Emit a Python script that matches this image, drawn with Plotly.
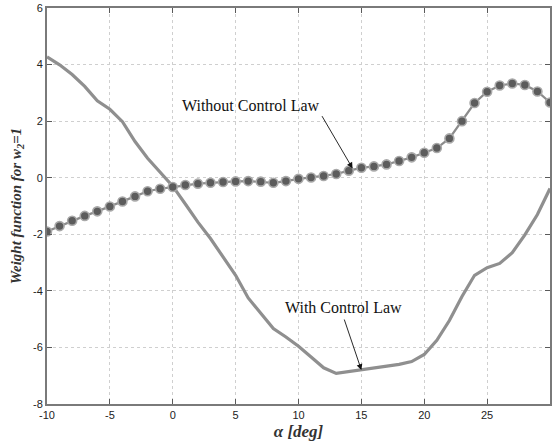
import plotly.graph_objects as go

# Angle of attack grid (deg)
alpha = list(range(-10, 31))

# Weight function without the control law (marked curve)
w_without = [-1.90, -1.71, -1.52, -1.35, -1.19, -1.02, -0.84, -0.66, -0.48, -0.39,
             -0.33, -0.26, -0.21, -0.18, -0.15, -0.13, -0.12, -0.14, -0.18, -0.12,
             -0.04, 0.01, 0.06, 0.13, 0.25, 0.35, 0.40, 0.47, 0.59, 0.72,
             0.88, 1.05, 1.39, 2.00, 2.64, 3.04, 3.26, 3.33, 3.28, 3.05,
             2.66]

# Weight function with the control law (plain curve)
w_with = [4.27, 3.99, 3.65, 3.23, 2.72, 2.42, 1.98, 1.28, 0.69, 0.20,
          -0.30, -0.93, -1.57, -2.15, -2.78, -3.45, -4.25, -4.79, -5.33, -5.63,
          -5.96, -6.34, -6.72, -6.92, -6.86, -6.78, -6.72, -6.66, -6.60, -6.50,
          -6.25, -5.75, -5.05, -4.20, -3.45, -3.18, -3.03, -2.65, -2.02, -1.30,
          -0.38]

x_ticks = [-10, -5, 0, 5, 10, 15, 20, 25, 30]
y_ticks = [-8, -6, -4, -2, 0, 2, 4, 6]

fig = go.Figure()

fig.add_trace(go.Scatter(
    x=alpha, y=w_with, mode="lines",
    line=dict(color="#8f8f8f", width=3.2),
    showlegend=False,
))

fig.add_trace(go.Scatter(
    x=alpha, y=w_without, mode="lines+markers",
    line=dict(color="#8c8c8c", width=2.2),
    marker=dict(size=9, color="#5c5c5c", line=dict(color="#a9a9a9", width=1.6)),
    showlegend=False,
))

text_font = dict(family="Liberation Serif, Times New Roman, serif", size=16, color="#111111")

# Labels
fig.add_annotation(x=6.2, y=2.55, xref="x", yref="y", text="Without Control Law",
                   showarrow=False, font=text_font)
fig.add_annotation(x=13.55, y=-4.6, xref="x", yref="y", text="With Control Law",
                   showarrow=False, font=text_font)

# Pointer arrows
fig.add_annotation(x=14.3, y=0.33, ax=11.8, ay=2.23, xref="x", yref="y",
                   axref="x", ayref="y", text="", showarrow=True,
                   arrowhead=2, arrowsize=1.3, arrowwidth=0.9, arrowcolor="#111111")
fig.add_annotation(x=15.0, y=-6.8, ax=13.6, ay=-4.96, xref="x", yref="y",
                   axref="x", ayref="y", text="", showarrow=True,
                   arrowhead=2, arrowsize=1.3, arrowwidth=0.9, arrowcolor="#111111")

tick_font = dict(family="Liberation Sans, Arial, sans-serif", size=11, color="#222222")
title_font = dict(family="Liberation Serif, Times New Roman, serif", size=17, color="#333333")

fig.update_xaxes(
    range=[-10, 30], tickvals=x_ticks, ticktext=[str(v) for v in x_ticks],
    showgrid=True, gridcolor="#cfcfcf", griddash="dot", gridwidth=1,
    zeroline=False, showline=True, linecolor="#7a7a7a", linewidth=2,
    mirror="ticks", ticks="inside", ticklen=5, tickcolor="#5a5a5a",
    tickfont=tick_font,
    title=dict(text="<b><i>α [deg]</i></b>", font=title_font, standoff=5),
)
fig.update_yaxes(
    range=[-8, 6], tickvals=y_ticks, ticktext=[str(v) for v in y_ticks],
    showgrid=True, gridcolor="#cfcfcf", griddash="dot", gridwidth=1,
    zeroline=False, showline=True, linecolor="#7a7a7a", linewidth=2,
    mirror="ticks", ticks="inside", ticklen=5, tickcolor="#5a5a5a",
    tickfont=tick_font,
    title=dict(text="<b><i>Weight function for w<sub>2</sub>=1</i></b>",
               font=dict(family="Liberation Serif, Times New Roman, serif", size=15, color="#333333"),
               standoff=8),
)

fig.update_layout(
    width=552, height=441,
    margin=dict(l=47, r=0, t=8, b=37),
    plot_bgcolor="white", paper_bgcolor="white",
)

fig.write_html("out.html")
